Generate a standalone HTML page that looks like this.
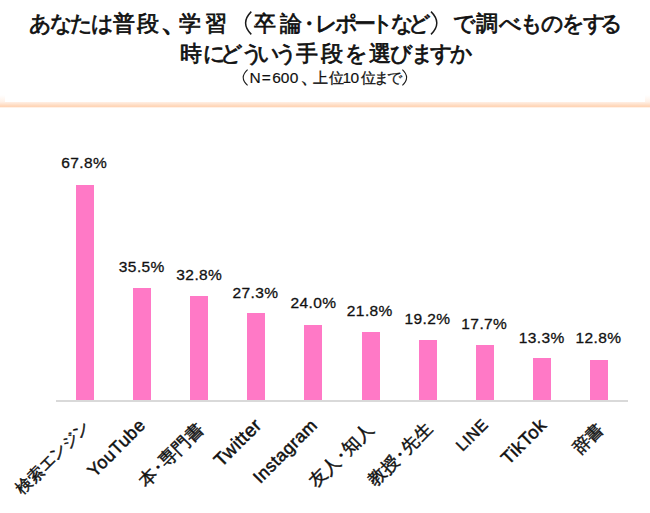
<!DOCTYPE html>
<html><head><meta charset="utf-8">
<style>
html,body{margin:0;padding:0;background:#fff;}
body{width:650px;height:513px;position:relative;overflow:hidden;font-family:"Liberation Sans",sans-serif;color:#111;}
.g1,.g3{position:absolute;line-height:40px;white-space:nowrap;}
.t1,.t2,.t3{position:absolute;left:0;width:650px;text-align:center;white-space:nowrap;}
.g1{font-size:22.5px;}
.g3{font-size:14px;}

.band{position:absolute;left:0;top:101.8px;width:650px;height:6.2px;background:linear-gradient(to bottom,rgba(255,205,170,0.3),rgba(255,200,160,0.78) 74%,rgba(255,200,160,0))}
.glow{position:absolute;top:95px;width:5px;height:7px;background:linear-gradient(to bottom,rgba(255,210,180,0),rgba(255,210,180,0.3))}
.axis{position:absolute;left:56px;top:400px;width:572px;height:2px;background:#d9d9d9;}
.lab.j{-webkit-text-stroke:0.45px #111;letter-spacing:0;}
.dot{margin:0 -0.22em;}
.bar{position:absolute;width:18px;background:#ff79c6;}
.val{position:absolute;white-space:nowrap;line-height:40px;font-size:15.5px;letter-spacing:0.4px;-webkit-text-stroke:0.3px #111;color:#111}
.lab{position:absolute;line-height:18px;letter-spacing:0.5px;-webkit-text-stroke:0.5px #111;color:#111;white-space:nowrap;transform-origin:100% 50%;transform:rotate(-45deg);}
</style></head><body>
<div class="band"></div><div class="glow" style="left:0"></div><div class="glow" style="left:645px"></div>
<span class="g1" style="left:28.60px;top:3.50px;font-size:21.5px;-webkit-text-stroke:0.75px #111;color:#111">あ</span>
<span class="g1" style="left:49.80px;top:3.50px;font-size:21.5px;-webkit-text-stroke:0.75px #111;color:#111">な</span>
<span class="g1" style="left:69.90px;top:3.50px;font-size:21.5px;-webkit-text-stroke:0.75px #111;color:#111">た</span>
<span class="g1" style="left:90.55px;top:3.50px;font-size:21.5px;-webkit-text-stroke:0.75px #111;color:#111">は</span>
<span class="g1" style="left:113.25px;top:3.50px;font-size:21.5px;-webkit-text-stroke:0.75px #111;color:#111">普</span>
<span class="g1" style="left:137.40px;top:3.50px;font-size:21.5px;-webkit-text-stroke:0.75px #111;color:#111">段</span>
<span class="g1" style="left:179.25px;top:3.50px;font-size:21.5px;-webkit-text-stroke:0.75px #111;color:#111">学</span>
<span class="g1" style="left:204.50px;top:3.50px;font-size:21.5px;-webkit-text-stroke:0.75px #111;color:#111">習</span>
<span class="g1" style="left:254.00px;top:3.50px;font-size:21.5px;-webkit-text-stroke:0.75px #111;color:#111">卒</span>
<span class="g1" style="left:279.90px;top:3.50px;font-size:21.5px;-webkit-text-stroke:0.75px #111;color:#111">論</span>
<span class="g1" style="left:297.85px;top:3.50px;font-size:21.5px;-webkit-text-stroke:0.75px #111;color:#111">・</span>
<span class="g1" style="left:315.05px;top:3.50px;font-size:21.5px;-webkit-text-stroke:0.75px #111;color:#111">レ</span>
<span class="g1" style="left:334.60px;top:3.50px;font-size:21.5px;-webkit-text-stroke:0.75px #111;color:#111">ポ</span>
<span class="g1" style="left:354.25px;top:3.50px;font-size:21.5px;-webkit-text-stroke:0.75px #111;color:#111">ー</span>
<span class="g1" style="left:370.55px;top:3.50px;font-size:21.5px;-webkit-text-stroke:0.75px #111;color:#111">ト</span>
<span class="g1" style="left:390.55px;top:3.50px;font-size:21.5px;-webkit-text-stroke:0.75px #111;color:#111">な</span>
<span class="g1" style="left:408.25px;top:3.50px;font-size:21.5px;-webkit-text-stroke:0.75px #111;color:#111">ど</span>
<span class="g1" style="left:453.00px;top:3.50px;font-size:21.5px;-webkit-text-stroke:0.75px #111;color:#111">で</span>
<span class="g1" style="left:476.05px;top:3.50px;font-size:21.5px;-webkit-text-stroke:0.75px #111;color:#111">調</span>
<span class="g1" style="left:499.40px;top:3.50px;font-size:21.5px;-webkit-text-stroke:0.75px #111;color:#111">べ</span>
<span class="g1" style="left:520.05px;top:3.50px;font-size:21.5px;-webkit-text-stroke:0.75px #111;color:#111">も</span>
<span class="g1" style="left:541.25px;top:3.50px;font-size:21.5px;-webkit-text-stroke:0.75px #111;color:#111">の</span>
<span class="g1" style="left:562.05px;top:3.50px;font-size:21.5px;-webkit-text-stroke:0.75px #111;color:#111">を</span>
<span class="g1" style="left:582.55px;top:3.50px;font-size:21.5px;-webkit-text-stroke:0.75px #111;color:#111">す</span>
<span class="g1" style="left:600.15px;top:3.50px;font-size:21.5px;-webkit-text-stroke:0.75px #111;color:#111">る</span>
<span class="g1" style="left:160.05px;top:0.50px;font-size:30px;-webkit-text-stroke:0.9px #111">、</span>
<span class="g1" style="left:180.05px;top:34.40px;font-size:21.5px;-webkit-text-stroke:0.75px #111;color:#111">時</span>
<span class="g1" style="left:202.85px;top:34.40px;font-size:21.5px;-webkit-text-stroke:0.75px #111;color:#111">に</span>
<span class="g1" style="left:220.20px;top:34.40px;font-size:21.5px;-webkit-text-stroke:0.75px #111;color:#111">ど</span>
<span class="g1" style="left:241.10px;top:34.40px;font-size:21.5px;-webkit-text-stroke:0.75px #111;color:#111">う</span>
<span class="g1" style="left:256.60px;top:34.40px;font-size:21.5px;-webkit-text-stroke:0.75px #111;color:#111">い</span>
<span class="g1" style="left:274.60px;top:34.40px;font-size:21.5px;-webkit-text-stroke:0.75px #111;color:#111">う</span>
<span class="g1" style="left:296.30px;top:34.40px;font-size:21.5px;-webkit-text-stroke:0.75px #111;color:#111">手</span>
<span class="g1" style="left:321.25px;top:34.40px;font-size:21.5px;-webkit-text-stroke:0.75px #111;color:#111">段</span>
<span class="g1" style="left:345.15px;top:34.40px;font-size:21.5px;-webkit-text-stroke:0.75px #111;color:#111">を</span>
<span class="g1" style="left:369.00px;top:34.40px;font-size:21.5px;-webkit-text-stroke:0.75px #111;color:#111">選</span>
<span class="g1" style="left:389.50px;top:34.40px;font-size:21.5px;-webkit-text-stroke:0.75px #111;color:#111">び</span>
<span class="g1" style="left:410.90px;top:34.40px;font-size:21.5px;-webkit-text-stroke:0.75px #111;color:#111">ま</span>
<span class="g1" style="left:429.50px;top:34.40px;font-size:21.5px;-webkit-text-stroke:0.75px #111;color:#111">す</span>
<span class="g1" style="left:449.75px;top:34.40px;font-size:21.5px;-webkit-text-stroke:0.75px #111;color:#111">か</span>
<span class="g3" style="left:312.50px;top:57.75px;font-size:14.5px;-webkit-text-stroke:0.3px #111;color:#111">上</span>
<span class="g3" style="left:328.80px;top:57.75px;font-size:14.5px;-webkit-text-stroke:0.3px #111;color:#111">位</span>
<span class="g3" style="left:360.50px;top:57.75px;font-size:14.5px;-webkit-text-stroke:0.3px #111;color:#111">位</span>
<span class="g3" style="left:374.15px;top:57.75px;font-size:14.5px;-webkit-text-stroke:0.3px #111;color:#111">ま</span>
<span class="g3" style="left:387.15px;top:57.75px;font-size:14.5px;-webkit-text-stroke:0.3px #111;color:#111">で</span>
<span class="g3" style="left:249.45px;top:58.40px;font-size:15.5px;-webkit-text-stroke:0.15px #111;color:#111">N</span>
<span class="g3" style="left:261.85px;top:58.40px;font-size:15.5px;-webkit-text-stroke:0.15px #111;color:#111">=</span>
<span class="g3" style="left:272.35px;top:58.40px;font-size:15.5px;-webkit-text-stroke:0.15px #111;color:#111">6</span>
<span class="g3" style="left:280.80px;top:58.40px;font-size:15.5px;-webkit-text-stroke:0.15px #111;color:#111">0</span>
<span class="g3" style="left:289.65px;top:58.40px;font-size:15.5px;-webkit-text-stroke:0.15px #111;color:#111">0</span>
<span class="g3" style="left:342.40px;top:58.40px;font-size:15.5px;-webkit-text-stroke:0.15px #111;color:#111">1</span>
<span class="g3" style="left:350.50px;top:58.40px;font-size:15.5px;-webkit-text-stroke:0.15px #111;color:#111">0</span>
<span class="g3" style="left:300.00px;top:55.50px;font-size:20px;-webkit-text-stroke:0.35px #111">、</span>
<svg style="position:absolute;left:0;top:0" width="650" height="100" fill="none" stroke="#1a1a1a">
<path d="M251.3,11.6 Q239.9,23 251.3,34.4" stroke-width="1.5"/>
<path d="M431,11.6 Q442.6,23 431,34.4" stroke-width="1.5"/>
<path d="M247.6,69.6 Q238.8,77.6 247.6,85.4" stroke-width="1.1"/>
<path d="M402.4,69.6 Q410.8,77.6 402.4,85.4" stroke-width="1.1"/>
</svg>
<div class="axis"></div>
<div class="bar" style="left:75.60px;top:185.00px;height:215.00px"></div>
<span class="val" style="left:61.20px;top:143.45px">67.8%</span>
<div class="lab j" style="right:564.25px;top:413.98px;font-size:16.06px">検索エンジン</div>
<div class="bar" style="left:132.80px;top:287.80px;height:112.20px"></div>
<span class="val" style="left:118.85px;top:246.70px">35.5%</span>
<div class="lab" style="right:507.49px;top:412.61px;font-size:17.78px">YouTube</div>
<div class="bar" style="left:190.00px;top:296.10px;height:103.90px"></div>
<span class="val" style="left:176.35px;top:255.30px">32.8%</span>
<div class="lab j" style="right:450.00px;top:416.60px;font-size:17.84px">本<span class="dot">・</span>専門書</div>
<div class="bar" style="left:247.20px;top:313.30px;height:86.70px"></div>
<span class="val" style="left:232.45px;top:273.40px">27.3%</span>
<div class="lab" style="right:391.80px;top:413.40px;font-size:18.73px">Twitter</div>
<div class="bar" style="left:304.40px;top:324.80px;height:75.20px"></div>
<span class="val" style="left:290.55px;top:283.30px">24.0%</span>
<div class="lab" style="right:335.55px;top:412.75px;font-size:17.45px">Instagram</div>
<div class="bar" style="left:361.60px;top:331.50px;height:68.50px"></div>
<span class="val" style="left:346.85px;top:290.70px">21.8%</span>
<div class="lab j" style="right:279.74px;top:417.15px;font-size:17.77px">友人<span class="dot">・</span>知人</div>
<div class="bar" style="left:418.80px;top:340.00px;height:60.00px"></div>
<span class="val" style="left:404.45px;top:298.95px">19.2%</span>
<div class="lab j" style="right:220.84px;top:415.65px;font-size:17.57px">教授<span class="dot">・</span>先生</div>
<div class="bar" style="left:476.00px;top:344.50px;height:55.50px"></div>
<span class="val" style="left:461.35px;top:303.85px">17.7%</span>
<div class="lab" style="right:164.36px;top:412.59px;font-size:15.97px">LINE</div>
<div class="bar" style="left:533.20px;top:358.00px;height:42.00px"></div>
<span class="val" style="left:518.75px;top:318.10px">13.3%</span>
<div class="lab" style="right:106.31px;top:413.21px;font-size:18.40px">TikTok</div>
<div class="bar" style="left:590.40px;top:360.00px;height:40.00px"></div>
<span class="val" style="left:575.45px;top:318.10px">12.8%</span>
<div class="lab j" style="right:50.35px;top:417.60px;font-size:17.37px">辞書</div>
</body></html>
